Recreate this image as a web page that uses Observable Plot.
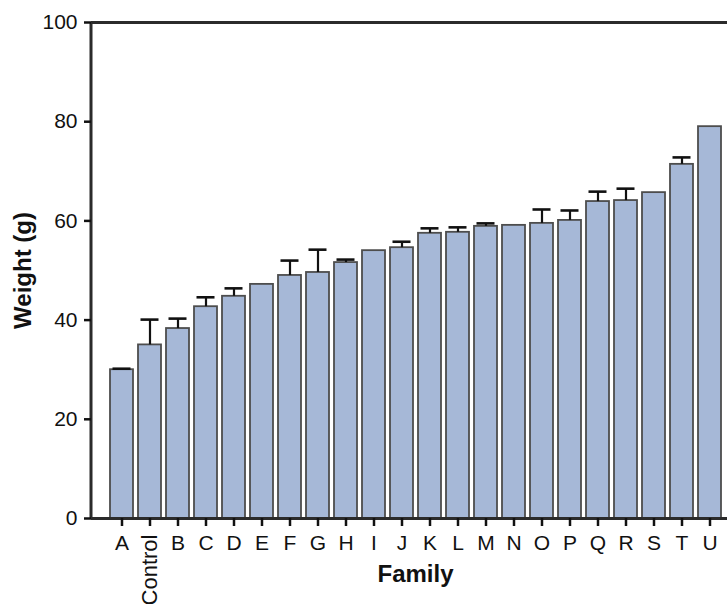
<!DOCTYPE html>
<html><head><meta charset="utf-8">
<script src="https://cdn.jsdelivr.net/npm/d3@7"></script>
<script src="https://cdn.jsdelivr.net/npm/@observablehq/plot@0.6"></script>
<style>body{margin:0;background:#fff}</style>
</head><body><div id="chart"></div>
<script>
const families = ["A","Control","B","C","D","E","F","G","H","I","J","K","L","M","N","O","P","Q","R","S","T","U"];
const weights  = [30.0, 35.0, 38.3, 42.7, 44.8, 47.2, 49.0, 49.6, 51.6, 54.0, 54.6, 57.5, 57.7, 58.9, 59.1, 59.5, 60.1, 63.9, 64.1, 65.7, 71.4, 79.0];
const errorTop = [30.2, 40.1, 40.3, 44.6, 46.4, null, 52.0, 54.2, 52.2, null, 55.8, 58.5, 58.7, 59.5, null, 62.3, 62.1, 65.9, 66.5, null, 72.8, null];
const yTicks = [0, 20, 40, 60, 80, 100];
const yLabel = "Weight (g)";
const xLabel = "Family";

const data = families.map((f, i) => ({family: f, weight: weights[i], err: errorTop[i]}));
const errData = data.filter(d => d.err != null);
const plainFamilies = families.filter(f => f !== "Control");

const leftLine = (index, scales, values, dims) => {
  const g = d3.create("svg:line")
    .attr("x1", dims.marginLeft).attr("x2", dims.marginLeft)
    .attr("y1", scales.y(100)).attr("y2", scales.y(0))
    .attr("stroke", "#2b2b2b").attr("stroke-width", 3);
  return g.node();
};

const chart = Plot.plot({
  width: 727, height: 604,
  marginTop: 22, marginBottom: 86, marginLeft: 91, marginRight: 0,
  style: {fontFamily: "'Liberation Sans', Arial, sans-serif", fontSize: "21px", background: "white", color: "#111"},
  x: {domain: families, range: [91, 739], paddingInner: 0.19, paddingOuter: 0.52},
  y: {domain: [0, 100], range: [518, 22]},
  marks: [
    Plot.barY(data, {x: "family", y: "weight", fill: "#a6b8d7", stroke: "#4d4d4d", strokeWidth: 1.8}),
    Plot.ruleX(errData, {x: "family", y1: "weight", y2: "err", stroke: "#111", strokeWidth: 2.2}),
    Plot.tickY(errData, {x: "family", y: "err", stroke: "#111", strokeWidth: 2.6, insetLeft: 2.5, insetRight: 2.5}),
    Plot.ruleY([0, 100], {stroke: "#2b2b2b", strokeWidth: 3}),
    leftLine,
    Plot.axisY({ticks: yTicks, tickSize: 7, tickPadding: 7, fontSize: 21, strokeWidth: 2.5,
      label: yLabel, labelAnchor: "center", labelArrow: "none", labelOffset: 78}),
    Plot.axisX({ticks: plainFamilies, tickSize: 8, tickPadding: 9, fontSize: 21, strokeWidth: 2.5, label: null}),
    Plot.axisX({ticks: ["Control"], tickSize: 8, tickPadding: 8, fontSize: 22, strokeWidth: 2.5, tickRotate: -90, label: null}),
    Plot.text([xLabel], {text: d => d, frameAnchor: "bottom", dx: 6, dy: 63, fontWeight: "bold", fontSize: 24, fill: "#111"})
  ]
});
const svg = d3.select(chart);
svg.selectAll("g[aria-label='y-axis tick label']").attr("font-size", 21).selectAll("text").attr("font-size", 21);
svg.selectAll("g[aria-label='x-axis tick label']").attr("font-size", 21).selectAll("text").attr("font-size", 21);
svg.selectAll("g[aria-label='x-axis tick label'] text").filter(function(){ return this.textContent === "Control"; }).attr("font-size", 22);
svg.selectAll("g[aria-label='y-axis label'] text").attr("font-weight", "bold").attr("font-size", 24);
document.getElementById("chart").appendChild(chart);
</script>
</body></html>
